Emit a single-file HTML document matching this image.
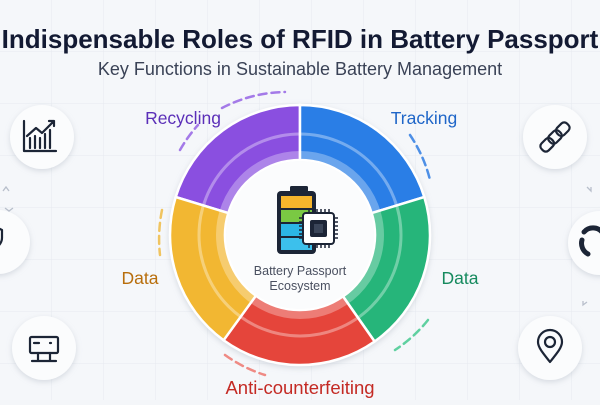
<!DOCTYPE html>
<html><head><meta charset="utf-8"><style>
html,body{margin:0;padding:0;}
body{width:600px;height:400px;overflow:hidden;background:#f4f6f9;font-family:"Liberation Sans",sans-serif;}
</style></head><body>
<svg width="600" height="400" viewBox="0 0 600 400" xmlns="http://www.w3.org/2000/svg">
<defs>
<pattern id="g" width="52" height="52" patternUnits="userSpaceOnUse"><path d="M52 0V52M0 52H52" stroke="#e6eaf0" stroke-width="1" fill="none"/></pattern>
<filter id="sh" x="-30%" y="-30%" width="160%" height="160%"><feDropShadow dx="0" dy="2" stdDeviation="3" flood-color="#9aa4b4" flood-opacity="0.35"/></filter>
</defs>
<rect width="600" height="400" fill="#f5f7fa"/>
<rect width="600" height="400" fill="url(#g)"/>
<text x="300" y="48" text-anchor="middle" font-size="26" font-weight="bold" fill="#131a33">Indispensable Roles of RFID in Battery Passport</text>
<text x="300" y="75" text-anchor="middle" font-size="18" fill="#3a4256">Key Functions in Sustainable Battery Management</text>

<g stroke="#fff" stroke-width="2.5" filter="url(#sh)">
<path d="M175.7 197 A130 130 0 0 1 300 105 L300 160 A75 75 0 0 0 228.3 213.1Z" fill="#8a4fe0"/>
<path d="M300 105 A130 130 0 0 1 424.3 197 L371.7 213.1 A75 75 0 0 0 300 160Z" fill="#2a7ee6"/>
<path d="M424.3 197 A130 130 0 0 1 374.6 341.5 L343 296.4 A75 75 0 0 0 371.7 213.1Z" fill="#27b57a"/>
<path d="M374.6 341.5 A130 130 0 0 1 223.6 340.2 L255.9 295.7 A75 75 0 0 0 343 296.4Z" fill="#e5443a"/>
<path d="M223.6 340.2 A130 130 0 0 1 175.7 197 L228.3 213.1 A75 75 0 0 0 255.9 295.7Z" fill="#f2b730"/>
</g>
<circle cx="300" cy="235" r="101" fill="none" stroke="#fff" stroke-opacity="0.35" stroke-width="3"/>
<circle cx="300" cy="235" r="80" fill="none" stroke="#fff" stroke-opacity="0.3" stroke-width="8"/>
<circle cx="300" cy="235" r="74" fill="#fbfcfd"/>
<g fill="none" stroke-linecap="round" stroke-width="2.5" stroke-dasharray="8 5">
<path d="M222 108 A140 140 0 0 1 285 92" stroke="#a47ae8"/>
<path d="M180 150 A145 145 0 0 1 198 125" stroke="#a47ae8"/>
<path d="M410 135 A140 140 0 0 1 430 180" stroke="#4d8fe6"/>
<path d="M162 210 A145 145 0 0 0 160 255" stroke="#f0c460"/>
<path d="M428 320 A140 140 0 0 1 395 350" stroke="#5fd0a0"/>
<path d="M225 355 A140 140 0 0 0 265 375" stroke="#ef8a84"/>
</g>
<rect x="290" y="186" width="18" height="6" rx="1.5" fill="#1c2536"/>
<rect x="277" y="191" width="39" height="63" rx="4" fill="#1c2536"/>
<rect x="281" y="196" width="31" height="12" fill="#f6b52c"/>
<rect x="281" y="210" width="31" height="12" fill="#7ac943"/>
<rect x="281" y="224" width="31" height="12" fill="#2bb6e6"/>
<rect x="281" y="238" width="31" height="12" fill="#3cc0ec"/>
<rect x="303" y="213" width="31" height="31" rx="3" fill="#fff" stroke="#1c2536" stroke-width="2"/>
<g stroke="#1c2536" stroke-width="1.5">
<path d="M309 209v4M313 209v4M317 209v4M321 209v4M325 209v4M329 209v4M309 244v4M313 244v4M317 244v4M321 244v4M325 244v4M329 244v4M299 218h4M299 222h4M299 226h4M299 230h4M299 234h4M299 238h4M334 218h4M334 222h4M334 226h4M334 230h4M334 234h4M334 238h4"/>
</g>
<rect x="310" y="220" width="17" height="17" rx="2" fill="#1c2536"/>
<rect x="314" y="224" width="9" height="9" fill="#3a4558"/>
<text x="300" y="275" text-anchor="middle" font-size="12.5" fill="#4a5060">Battery Passport</text>
<text x="300" y="290" text-anchor="middle" font-size="12.5" fill="#4a5060">Ecosystem</text>
<text x="183" y="124" text-anchor="middle" font-size="17.5" fill="#5b2fb8">Recycling</text>
<text x="424" y="124" text-anchor="middle" font-size="17.5" fill="#1f66c8">Tracking</text>
<text x="140" y="284" text-anchor="middle" font-size="17.5" fill="#b86e0c">Data</text>
<text x="460" y="284" text-anchor="middle" font-size="17.5" fill="#168a5e">Data</text>
<text x="300" y="394" text-anchor="middle" font-size="18.5" fill="#c42a24">Anti-counterfeiting</text>
<g fill="#fbfcfd" filter="url(#sh)">
<circle cx="42" cy="137" r="32"/><circle cx="-2" cy="242" r="32"/><circle cx="44" cy="348" r="32"/>
<circle cx="555" cy="137" r="32"/><circle cx="600" cy="243" r="32"/><circle cx="550" cy="348" r="32"/>
</g>
<g fill="none" stroke="#1c2536" stroke-width="2.2" stroke-linecap="round" stroke-linejoin="round">
<path d="M24 121V151H56"/><path d="M30 148v-10M35 148v-12M40 148v-10M45 148v-14M50 148v-18"/><path d="M27 136l9-8 6 5 12-12M49 121h5v5"/>
<path d="M2 230l-6-3v0l-6 3v8c0 6 6 10 6 10s6-4 6-10z"/>
<rect x="30" y="337" width="28" height="16" rx="1.5"/><path d="M34 343h5M50 343h1M38 353v8M50 353v8M32 361h24"/>
<g transform="rotate(-45 555 137)"><rect x="537" y="132" width="14" height="10" rx="4"/><rect x="548" y="132" width="14" height="10" rx="4"/><rect x="559" y="132" width="14" height="10" rx="4"/></g>
<path d="M584 232a12 12 0 0 1 18 0M588 254a12 12 0 0 1-6-14" stroke-width="5"/>
<path d="M550 362c-8-10-12-15-12-20a12 12 0 0 1 24 0c0 5-4 10-12 20z"/><circle cx="550" cy="342" r="5"/>
</g>
<g fill="none" stroke="#b8bfcb" stroke-width="1.3">
<path d="M3 191l3-4 3 4M5 208l4 3 4-3M587 187l4 4v-4M587 302l-4 3v-4"/>
</g>
</svg>
</body></html>
